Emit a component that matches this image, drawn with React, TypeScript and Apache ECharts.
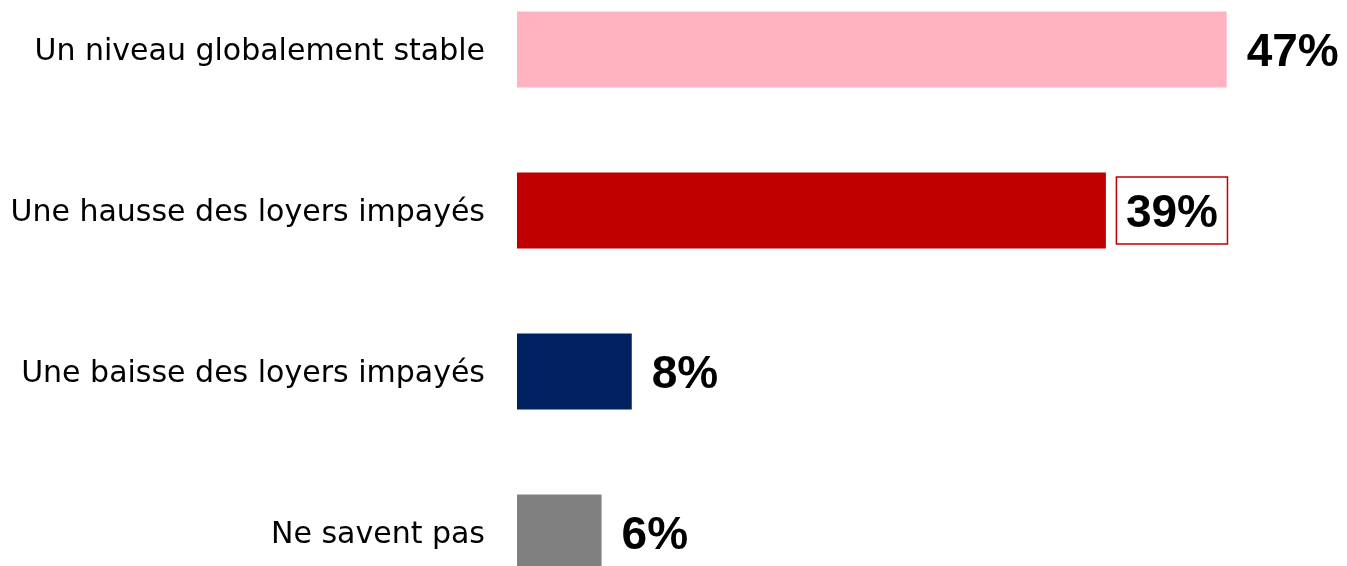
import React, { useEffect, useRef } from "react";
import * as echarts from "echarts";

const categories = [
  "Un niveau globalement stable",
  "Une hausse des loyers impayés",
  "Une baisse des loyers impayés",
  "Ne savent pas",
];
const values = [47, 39, 7.6, 5.6];
const labels = ["47%", "39%", "8%", "6%"];
const colors = ["#FFB3C1", "#C00000", "#002060", "#808080"];

export default function App() {
  const ref = useRef<HTMLDivElement>(null);
  useEffect(() => {
    if (!ref.current) return;
    const chart = echarts.init(ref.current, null, { renderer: "svg" });
    chart.setOption({
      animation: false,
      grid: {
        left: 517,
        top: 0,
        width: 709.7,
        height: 644,
        containLabel: false,
        outerBoundsMode: "none",
      },
      xAxis: { type: "value", min: 0, max: 47, show: false },
      yAxis: {
        type: "category",
        data: categories,
        inverse: true,
        axisLine: { show: false },
        axisTick: { show: false },
        axisLabel: {
          margin: 32,
          fontSize: 30,
          color: "#000",
          fontFamily: "DejaVu Sans",
        },
      },
      series: [
        {
          type: "bar",
          barWidth: 76,
          data: values.map((v, i) => ({
            value: v,
            itemStyle: { color: colors[i] },
            label:
              i === 1
                ? {
                    borderColor: "#C00000",
                    borderWidth: 1.5,
                  }
                : {},
          })),
          label: {
            show: true,
            position: "right",
            distance: 10.5,
            padding: [10, 9.5, 10, 9.5],
            formatter: (p: any) => labels[p.dataIndex],
            fontSize: 46,
            lineHeight: 47,
            fontWeight: "bold",
            color: "#000",
            fontFamily: "Liberation Sans",
          },
        },
      ],
    });
    return () => chart.dispose();
  }, []);
  return (
    <div
      ref={ref}
      style={{ position: "fixed", left: 0, top: -31.5, width: 1347, height: 644 }}
    />
  );
}
